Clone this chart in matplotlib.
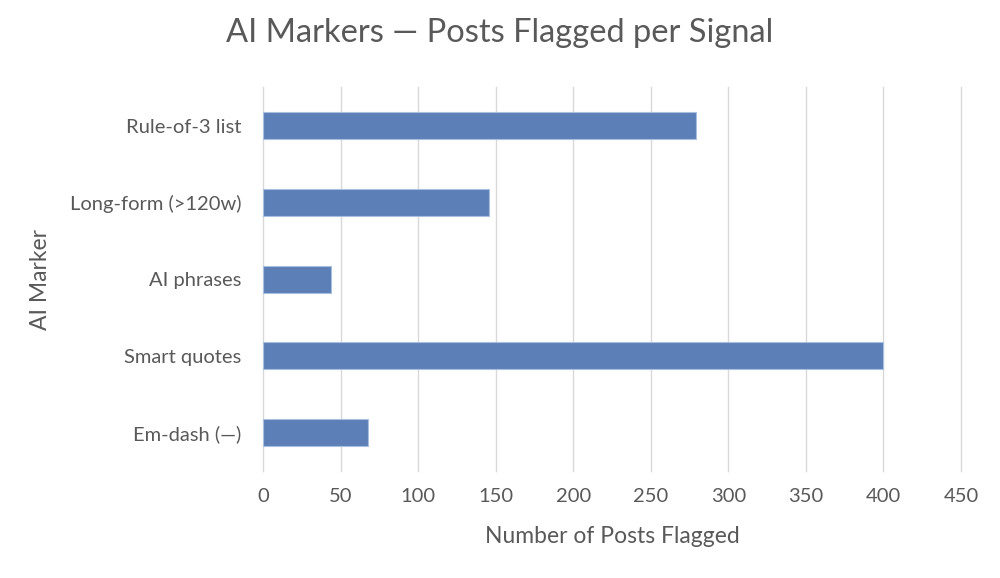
import matplotlib.pyplot as plt

plt.rcParams['font.family'] = ['Lato', 'DejaVu Sans']

markers = ['Em-dash (\u2014)', 'Smart quotes', 'AI phrases', 'Long-form (>120w)', 'Rule-of-3 list']
posts = [68, 400, 44, 146, 279]
xticks = [0, 50, 100, 150, 200, 250, 300, 350, 400, 450]

text_col = '#595959'

fig = plt.figure(figsize=(10, 5.78), dpi=100)
ax = fig.add_axes([0.263, 0.185, 0.698, 0.664])

ax.barh(markers, posts, height=0.35, color='#5b7fb6', edgecolor='#a9bfdf', linewidth=0.8, zorder=3)

ax.set_xlim(0, 450)
ax.set_ylim(-0.5, len(markers) - 0.5)
ax.set_xticks(xticks)
ax.grid(axis='x', color='#d9d9d9', linewidth=1.0, zorder=0)
for gl in ax.get_xgridlines():
    gl.set_clip_on(False)
for s in ax.spines.values():
    s.set_visible(False)
ax.tick_params(axis='both', length=0, labelsize=14.5, labelcolor=text_col)
ax.tick_params(axis='x', pad=12)
ax.tick_params(axis='y', pad=15.5)

ax.set_xlabel('Number of Posts Flagged', fontsize=16.5, color=text_col, labelpad=15)
ax.set_ylabel('AI Marker', fontsize=16.5, color=text_col, labelpad=14)
fig.suptitle('AI Markers \u2014 Posts Flagged per Signal', fontsize=23.5, color=text_col, y=0.968)

fig.savefig('out.png', dpi=100)
